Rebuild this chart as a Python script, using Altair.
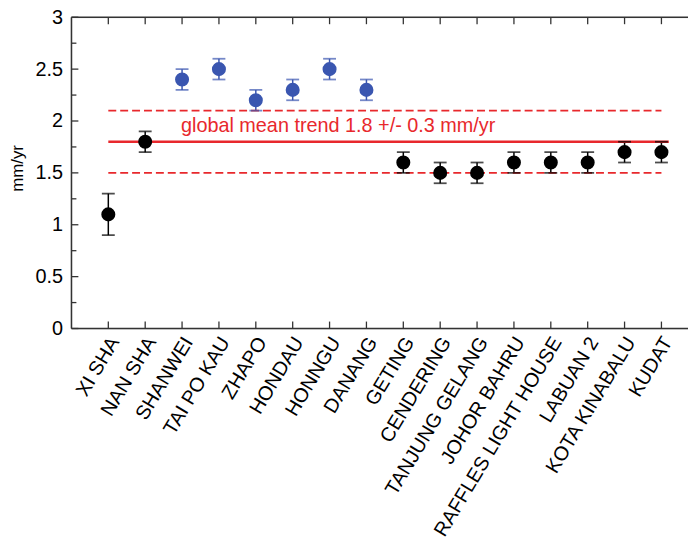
import altair as alt
import pandas as pd

stations = ["XI SHA", "NAN SHA", "SHANWEI", "TAI PO KAU", "ZHAPO", "HONDAU", "HONNGU",
            "DANANG", "GETING", "CENDERING", "TANJUNG GELANG", "JOHOR BAHRU",
            "RAFFLES LIGHT HOUSE", "LABUAN 2", "KOTA KINABALU", "KUDAT"]
trend = [1.1, 1.8, 2.4, 2.5, 2.2, 2.3, 2.5, 2.3, 1.6, 1.5, 1.5, 1.6, 1.6, 1.6, 1.7, 1.7]
error = [0.2, 0.1, 0.1, 0.1, 0.1, 0.1, 0.1, 0.1, 0.1, 0.1, 0.1, 0.1, 0.1, 0.1, 0.1, 0.1]
group = ["b", "b", "c", "c", "c", "c", "c", "c", "b", "b", "b", "b", "b", "b", "b", "b"]

global_mean = 1.8
global_err = 0.3
line_start = 1
line_end = 16
solid_end = 16.2
label_x = 2.97
label_y = 1.89
label_text = "global mean trend 1.8 +/- 0.3 mm/yr"

y_major = [0, 0.5, 1, 1.5, 2, 2.5, 3]
y_minor = [0.25, 0.75, 1.25, 1.75, 2.25, 2.75]

W, H = 622, 314
X_DOMAIN = [0, W / 37.2]
FONT = "Liberation Sans"
RED = "#e8282c"
BLUE = "#3a56b0"
AXC = "#333333"

idx = list(range(1, len(stations) + 1))
df = pd.DataFrame({
    "idx": idx,
    "station": stations,
    "trend": trend,
    "lo": [t - e for t, e in zip(trend, error)],
    "hi": [t + e for t, e in zip(trend, error)],
    "group": group,
})

label_js = "[" + ",".join("'" + s + "'" for s in stations) + "]"

xscale = alt.Scale(domain=X_DOMAIN, nice=False, zero=False)
yscale = alt.Scale(domain=[0, 3], nice=False)
cscale = alt.Scale(domain=["b", "c"], range=["#000000", BLUE])

x_enc = alt.X("idx:Q", scale=xscale, title=None,
              axis=alt.Axis(values=idx, labelExpr=label_js + "[datum.value-1]",
                            labelAngle=-59, labelAlign="right", labelBaseline="middle",
                            labelPadding=10, labelOffset=6, ticks=False, domain=False, grid=False,
                            labelFont=FONT, labelFontSize=20, labelColor="black",
                            labelOverlap=False, labelLimit=400))
y_axis = alt.Axis(values=y_major, format="~g", ticks=False, domain=False, grid=False,
                  labelFont=FONT, labelFontSize=20, labelColor="black", labelPadding=9,
                  title="mm/yr", titleFont=FONT, titleFontSize=17, titleFontWeight="normal",
                  titleColor="black", titleAngle=-90, titleX=-45, titleY=152,
                  titleAlign="center", titleBaseline="bottom", titleLimit=200)

base = alt.Chart(df)

errbars = base.mark_rule(strokeWidth=1.5).encode(
    x=x_enc,
    y=alt.Y("lo:Q", scale=yscale, axis=y_axis),
    y2="hi:Q",
    color=alt.Color("group:N", scale=cscale, legend=None),
)
caps_hi = base.mark_tick(orient="horizontal", size=13, thickness=1.8).encode(
    x="idx:Q", y="hi:Q", color=alt.Color("group:N", scale=cscale, legend=None))
caps_lo = base.mark_tick(orient="horizontal", size=13, thickness=1.8).encode(
    x="idx:Q", y="lo:Q", color=alt.Color("group:N", scale=cscale, legend=None))
points = base.mark_point(filled=True, opacity=1, size=200).encode(
    x="idx:Q", y="trend:Q", color=alt.Color("group:N", scale=cscale, legend=None))

lines_df = pd.DataFrame({
    "x1": [line_start, line_start, line_start],
    "x2": [solid_end, line_end, line_end],
    "y": [global_mean, global_mean + global_err, global_mean - global_err],
    "kind": ["solid", "dash", "dash"],
})
solid = alt.Chart(lines_df[lines_df.kind == "solid"]).mark_rule(color=RED, strokeWidth=2.5).encode(
    x="x1:Q", x2="x2:Q", y="y:Q")
dashed = alt.Chart(lines_df[lines_df.kind == "dash"]).mark_rule(
    color=RED, strokeWidth=2, strokeDash=[8, 4]).encode(x="x1:Q", x2="x2:Q", y="y:Q")

text = alt.Chart(pd.DataFrame({"x": [label_x], "y": [label_y], "t": [label_text]})).mark_text(
    align="left", baseline="alphabetic", font=FONT, fontSize=20, color=RED).encode(
    x="x:Q", y="y:Q", text="t:N")

one = alt.Data(values=[{"a": 1}])
frame_left = alt.Chart(one).mark_rule(color=AXC, strokeWidth=1.5).encode(
    x=alt.value(0), y=alt.value(0), y2=alt.value(H))
frame_top = alt.Chart(one).mark_rule(color=AXC, strokeWidth=1.5).encode(
    x=alt.value(0), x2=alt.value(W), y=alt.value(0))
frame_bot = alt.Chart(one).mark_rule(color=AXC, strokeWidth=1.5).encode(
    x=alt.value(0), x2=alt.value(W), y=alt.value(H))

xt_bot = base.mark_rule(color=AXC, strokeWidth=1.3).encode(
    x="idx:Q", y=alt.value(H), y2=alt.value(H - 7))
xt_top = base.mark_rule(color=AXC, strokeWidth=1.3).encode(
    x="idx:Q", y=alt.value(0), y2=alt.value(7))

yt_major = alt.Chart(pd.DataFrame({"v": y_major})).mark_rule(color=AXC, strokeWidth=1.3).encode(
    y="v:Q", x=alt.value(0), x2=alt.value(7))
yt_minor = alt.Chart(pd.DataFrame({"v": y_minor})).mark_rule(color=AXC, strokeWidth=1.3).encode(
    y="v:Q", x=alt.value(0), x2=alt.value(5))

chart = alt.layer(
    errbars, solid, dashed, text, caps_hi, caps_lo, points,
    xt_bot, xt_top, yt_major, yt_minor, frame_left, frame_top, frame_bot,
).properties(
    width=W, height=H,
    autosize=alt.AutoSizeParams(type="none"),
    padding={"left": 64, "top": 7, "right": 0, "bottom": 208},
).configure_view(stroke="transparent").configure(background="white")

chart.save("out.html", embed_options={"renderer": "svg", "actions": False})
